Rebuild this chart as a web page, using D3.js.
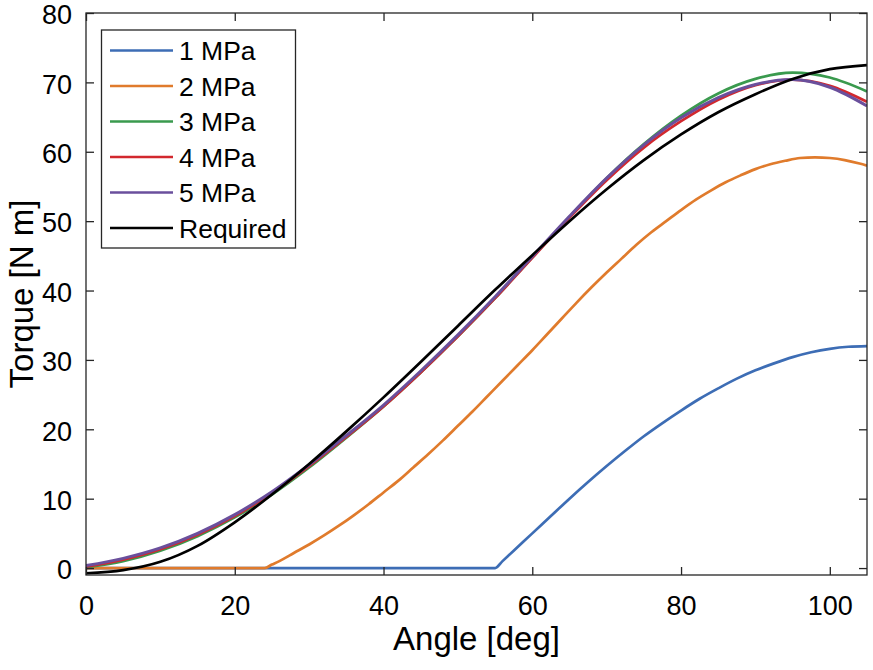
<!DOCTYPE html>
<html><head><meta charset="utf-8">
<script src="https://cdn.jsdelivr.net/npm/d3@7"></script>
<style>body{margin:0;background:#fff}svg{display:block}text{font-family:"Liberation Sans",Arial,sans-serif;fill:#000}</style>
</head><body><svg id="c" width="873" height="670"></svg>
<script>
const angles = [0,5,10,15,20,25,30,35,40,45,50,55,60,65,70,75,80,85,90,95,100,105];
const mpa1Angles = [0,55,56,57.5,60,62.5,65,67.5,70,72.5,75,77.5,80,82.5,85,87.5,90,92.5,95,97.5,100,102.5,105];
const mpa1 = [0,0,1.0,2.5,5.0,7.5,10.0,12.4,14.7,16.9,19.0,20.9,22.7,24.4,25.9,27.3,28.5,29.5,30.4,31.1,31.6,31.9,32.0];
const mpa2Angles = [0,24,25,26,28,30,32,34,36,38,40,42,44,46,48,50,52,54,56,58,60,62,64,66,68,70,72,74,76,78,80,82,84,86,88,90,92,94,96,98,100,102,104,105];
const mpa2 = [0,0,0.5,1.0,2.2,3.4,4.7,6.1,7.6,9.2,10.9,12.6,14.5,16.4,18.4,20.5,22.6,24.8,27.0,29.2,31.4,33.7,36.0,38.3,40.5,42.6,44.6,46.6,48.4,50.0,51.6,53.1,54.4,55.6,56.6,57.5,58.2,58.7,59.1,59.2,59.1,58.8,58.3,58.0];
const mpa3 = [0.1,1.0,2.5,4.6,7.3,10.6,14.5,18.8,23.3,28.2,33.4,38.9,44.8,50.6,56.2,61.1,65.2,68.4,70.5,71.4,70.7,68.7];
const mpa4 = [0.2,1.2,2.7,4.8,7.5,10.8,14.7,18.9,23.3,28.2,33.4,38.9,44.7,50.5,55.9,60.6,64.4,67.5,69.6,70.4,69.5,67.2];
const mpa5 = [0.35,1.4,2.9,5.0,7.7,11.0,14.9,19.1,23.5,28.4,33.6,39.1,44.9,50.7,56.2,61.0,64.9,67.8,69.7,70.4,69.3,66.6];
const required = [-0.75,-0.3,0.9,3.2,6.6,10.6,15.0,19.7,24.6,29.7,34.9,40.1,45.1,50.0,54.6,58.8,62.5,65.7,68.3,70.5,71.9,72.5];
const seriesNames = ["1 MPa","2 MPa","3 MPa","4 MPa","5 MPa","Required"];
const seriesColors = ["#3D6DB5","#E07B2C","#3A9A4E","#D2282E","#6A4F9C","#000000"];
const xTicks = [0,20,40,60,80,100];
const yTicks = [0,10,20,30,40,50,60,70,80];

const svg = d3.select("#c");
const L = 86, R = 867, T = 13, B = 575;
const x = d3.scaleLinear().domain([0,105]).range([L,R]);
const y = d3.scaleLinear().domain([-1,80]).range([B,T]);
const axisColor = "#262626";

const series = [
  {x: mpa1Angles, y: mpa1},
  {x: mpa2Angles, y: mpa2},
  {x: angles, y: mpa3},
  {x: angles, y: mpa4},
  {x: angles, y: mpa5},
  {x: angles, y: required}
];
const line = d3.line().x(d=>x(d[0])).y(d=>y(d[1])).curve(d3.curveMonotoneX);
const plot = svg.append("g");
plot.append("defs").append("clipPath").attr("id","clip").append("rect").attr("x",L).attr("y",T).attr("width",R-L).attr("height",B-T);
const lines = plot.append("g").attr("clip-path","url(#clip)");
series.forEach((s,i)=>{
  lines.append("path").datum(s.x.map((a,j)=>[a,s.y[j]]))
    .attr("d",line).attr("fill","none").attr("stroke",seriesColors[i])
    .attr("stroke-width", i===4 ? 3 : 2.7).attr("stroke-linejoin","round");
});

// axes
const tl = 8;
const gx = svg.append("g").attr("transform",`translate(0,${B})`)
  .call(d3.axisBottom(x).tickValues(xTicks).tickSize(-tl).tickPadding(21).tickFormat(d3.format("d")));
const gy = svg.append("g").attr("transform",`translate(${L},0)`)
  .call(d3.axisLeft(y).tickValues(yTicks).tickSize(-tl).tickPadding(14).tickFormat(d3.format("d")));
const gxt = svg.append("g").attr("transform",`translate(0,${T})`)
  .call(d3.axisTop(x).tickValues(xTicks).tickSize(-tl).tickFormat(""));
const gyr = svg.append("g").attr("transform",`translate(${R},0)`)
  .call(d3.axisRight(y).tickValues(yTicks).tickSize(-tl).tickFormat(""));
[gx,gy,gxt,gyr].forEach(g=>{
  g.select(".domain").remove();
  g.selectAll(".tick line").attr("stroke",axisColor).attr("stroke-width",1.3);
  g.selectAll(".tick text").attr("font-size",27).attr("fill","#000").attr("font-family","Liberation Sans, Arial, sans-serif");
});
gy.selectAll(".tick text").attr("dy","0.4em");
svg.append("rect").attr("x",L).attr("y",T).attr("width",R-L).attr("height",B-T)
  .attr("fill","none").attr("stroke",axisColor).attr("stroke-width",1.3);

// labels
svg.append("text").attr("x",(L+R)/2).attr("y",650).attr("text-anchor","middle")
  .attr("font-size",33).text("Angle [deg]");
svg.append("text").attr("transform",`translate(33,${(T+B)/2}) rotate(-90)`).attr("text-anchor","middle")
  .attr("font-size",33).text("Torque [N m]");

// legend
const lg = svg.append("g");
lg.append("rect").attr("x",101.5).attr("y",30).attr("width",194).attr("height",218)
  .attr("fill","#fff").attr("stroke",axisColor).attr("stroke-width",1.3);
seriesNames.forEach((n,i)=>{
  const cy = 50.5 + i*35.5;
  lg.append("line").attr("x1",110).attr("x2",173).attr("y1",cy).attr("y2",cy)
    .attr("stroke",seriesColors[i]).attr("stroke-width",2.7);
  lg.append("text").attr("x",179).attr("y",cy).attr("dy","0.36em").attr("font-size",26.5).text(n);
});
</script></body></html>
